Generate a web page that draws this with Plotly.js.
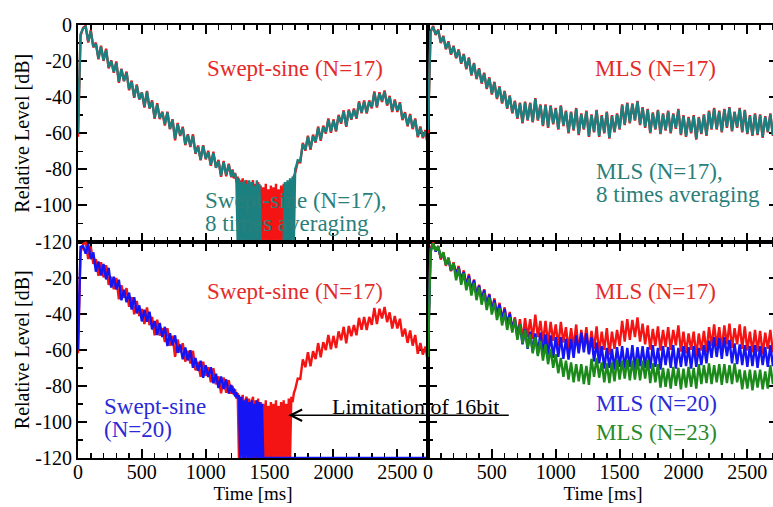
<!DOCTYPE html>
<html>
<head>
<meta charset="utf-8">
<script src="https://cdn.plot.ly/plotly-3.0.1.min.js"></script>
<style>
html,body{margin:0;padding:0;overflow:hidden;background:#fff;width:773px;height:507px;}
#chart{width:780px;height:507px;}
</style>
</head>
<body>
<div id="chart"></div>
<script>
// ---------- tick labels ----------
const xTickVals = [0, 500, 1000, 1500, 2000, 2500];
const xTickText = ['0', '500', '1000', '1500', '2000', '2500'];
const yTickVals = [-120, -100, -80, -60, -40, -20, 0];
const yTickTextTop = ['-120', '-100', '-80', '-60', '-40', '-20', '0'];
const yTickTextBottom = ['-120', '-100', '-80', '-60', '-40', '-20', ''];

// ---------- time samples [ms] ----------
const timeSweep = [
0,20,40,60,80,100,120,140,160,180,200,220,240,260,280,300,320,340,360,380,
400,420,440,460,480,500,520,540,560,580,600,620,640,660,680,700,720,740,760,780,
800,820,840,860,880,900,920,940,960,980,1000,1020,1040,1060,1080,1100,1120,1140,1160,1180,1200,
1210,1220,1230,1240,1250,1260,1270,1280,1290,1300,1310,1320,1330,1340,1350,1360,1370,1380,1390,1400,
1410,1420,1430,1440,1450,1460,1470,1480,1490,1500,1510,1520,1530,1540,1550,1560,1570,1580,1590,1600,
1610,1620,1630,1640,1650,1660,1670,1680,1690,1700,1710,1720,
1740,1760,1780,1800,1820,1840,1860,1880,1900,1920,1940,1960,1980,2000,2020,2040,2060,2080,2100,2120,
2140,2160,2180,2200,2220,2240,2260,2280,2300,2320,2340,2360,2380,2400,2420,2440,2460,2480,2500,2520,
2540,2560,2580,2600,2620,2640,2660,2680,2700,2720,2740];

const timeMls = [
0,20,40,60,80,100,120,140,160,180,200,220,240,260,280,300,320,340,360,380,
400,420,440,460,480,500,520,540,560,580,600,620,640,660,680,700,720,740,760,780,
800,820,840,860,880,900,920,940,960,980,1000,1020,1040,1060,1080,1100,1120,1140,1160,1180,
1200,1220,1240,1260,1280,1300,1320,1340,1360,1380,1400,1420,1440,1460,1480,1500,1520,1540,1560,1580,
1600,1620,1640,1660,1680,1700,1720,1740,1760,1780,1800,1820,1840,1860,1880,1900,1920,1940,1960,1980,
2000,2020,2040,2060,2080,2100,2120,2140,2160,2180,2200,2220,2240,2260,2280,2300,2320,2340,2360,2380,
2400,2420,2440,2460,2480,2500,2520,2540,2560,2580,2600,2620,2640,2660,2680,2700,2720,2740];

// ---------- Swept-sine (N=17) [dB] ----------
const sweep17 = [
-62,-6,-1.5,-0.5,-9.7,-2.8,-12.4,-9.8,-19,-11.5,
-19.9,-13.1,-24,-19.6,-26.5,-20.2,-32.1,-24.2,-31.2,-25.8,
-36.2,-30.8,-40.3,-32.9,-41.3,-37.4,-45.7,-36.6,-46.3,-41.8,
-52,-43.4,-52.1,-48,-55.7,-48.1,-57.8,-52.2,-63.9,-54.3,
-61.5,-56.4,-66.6,-60.5,-67.7,-60.6,-71.4,-66.8,-75,-66.6,
-74.5,-69.7,-78.1,-70.2,-79.2,-74.8,-84.2,-75.4,-83.8,-76.9,
-84.4,
-80,-85,-82,-87,-84,-120,-86,-89,-85,-120,
-88,-86,-120,-87,-120,-89,-86,-120,-88,-120,
-87,-120,-89,-120,-90,-120,-88,-120,-91,-120,
-89,-120,-90,-120,-88,-120,-91,-120,-89,-120,
-88,-120,-90,-120,-87,-120,-86,-89,-84,-82,
-78,-76,
-76.2,-65.3,-69.7,-61.3,-69.2,-60.8,-65.2,-56.3,-64.2,-55.8,
-60.2,-51.8,-59.7,-52.3,-59,-49.8,-54.7,-47.3,-56.5,-46.8,
-52.5,-46.3,-52,-42.3,-48.9,-41.8,-49,-41.8,-46.2,-36.8,
-45.7,-37.3,-42.7,-36.3,-44.7,-39.3,-48.2,-41.3,-48.2,-42.8,
-52.7,-48.3,-56.2,-49.3,-57.7,-51.8,-62.2,-56.3,-62.7,-58.3,
-67.2];

// ---------- Swept-sine (N=17), 8 times averaging [dB] (null = below -120 dB) ----------
const sweep17avg = [
-60,-5,-2,-1,-9,-3.5,-12,-10.5,-18.5,-12,
-19.5,-14,-23.5,-20,-26,-21,-31.5,-24.5,-31,-26.5,
-35.5,-31.5,-40,-33.5,-41,-37.5,-45,-37,-46,-42.5,
-51.5,-44,-51.5,-48.5,-55,-48.5,-57.5,-52.5,-63,-55,
-61,-57,-66,-61,-67,-61.5,-71,-67.5,-74.5,-67,
-74,-70.5,-77.5,-71,-79,-75.5,-83.5,-76,-83,-77.5,
-84,
-80.5,-84,-82.5,-86,-120,-85,-120,-87,-120,-86,
-120,-88,-120,-86,-120,-87,-120,-89,-120,-86,
-120,-88,-120,null,null,null,null,null,null,null,
null,null,null,null,null,null,null,null,null,null,
-120,-87,-120,-86,-120,-85,-120,-84,-120,-80,
-78,-75,
-75.5,-66,-69,-62,-68.5,-61.5,-64.5,-57,-63.5,-56.5,
-59.5,-52.5,-59,-53,-58.5,-50.5,-54,-48,-56,-47.5,
-52,-47,-51.5,-43,-48.5,-42.5,-48.5,-42.5,-45.5,-37.5,
-45,-38,-42,-37,-44,-40,-47.5,-42,-47.5,-43.5,
-52,-49,-55.5,-50,-57,-52.5,-61.5,-57,-62,-59,
-66.5];

// ---------- Swept-sine (N=20) [dB] ----------
const sweep20 = [
-60,-3,-2.5,-6.7,-1.3,-9.7,-6,-16.7,-11.1,-18.9,
-12.5,-21,-14.6,-25.5,-19.6,-26.6,-21.2,-32.6,-26.8,-33.7,
-28.3,-37.7,-30.9,-39.8,-35.4,-44.3,-37.8,-44.5,-38.9,-48.7,
-44.1,-51.8,-45.2,-52.9,-47.3,-58,-50.9,-57.6,-52,-61.7,
-57.1,-65.3,-58.7,-65.9,-60.3,-70,-64.5,-71.7,-66.1,-75.5,
-68.6,-75.1,-69.7,-78.6,-73.3,-81.2,-74.8,-81.8,-76.4,-84.3,
-79.5,
-84,-81.5,-86,-83.5,-87,-85,-120,-86,-120,-88,
-120,-87,-120,-89,-120,-88,-120,-90,-120,-88,
-120,-89,-120,-90,-120,-120,-120,-120,-120,-120,
-120,-120,-120,-120,-120,-120,-120,-120,-120,-120,
-120,-120,-120,-120,-120,-120,-120,-120,-120,-120,
-120,-120,
-120,-120,-120,-120,-120,-120,-120,-120,-120,-120,
-120,-120,-120,-120,-120,-120,-120,-120,-120,-120,
-120,-120,-120,-120,-120,-120,-120,-120,-120,-120,
-120,-120,-120,-120,-120,-120,-120,-120,-120,-120,
-120,-120,-120,-120,-120,-120,-120,-120,-120,-120,
-120];

// ---------- MLS (N=17) [dB] ----------
const mls17 = [
-60,-4,-0.5,-5.5,-2.5,-10,-6,-13.5,-9,-16.5,
-11.5,-18.5,-13.5,-21.5,-16,-24.5,-18,-28,-21,-30,
-24,-32.5,-26.5,-35.5,-29,-38.5,-31.5,-41,-34,-43.5,
-36.5,-46.5,-39,-49,-42,-52,-43,-54.5,-42.5,-53,
-43,-54,-40.5,-53,-44,-56,-44,-57,-44.5,-55,
-46,-58,-44.5,-56,-47.5,-60,-48,-58.5,-46,-61,
-49,-58,-47.5,-62,-49.5,-59.5,-47,-62,-50,-60,
-48,-63,-50,-59.5,-49,-58,-44,-55.5,-43,-54.5,
-43.5,-53,-42,-55.5,-45.5,-57,-46.5,-60,-48.5,-58,
-47,-60.5,-49,-58.5,-47.5,-60,-49,-57.5,-46.5,-61,
-50,-62,-51,-60,-50,-63.5,-51,-60.5,-49.5,-61.5,
-47.5,-58,-46,-58,-47.5,-59.5,-46.5,-57,-45.5,-59,
-48,-57,-46,-59.5,-47,-60.5,-50,-61.5,-49,-61,
-49.5,-62.5,-50.5,-59.5,-49,-61.5,-51,-60];

// ---------- MLS (N=17), 8 times averaging [dB] ----------
const mls17avg = [
-58,-3.5,-1,-5,-3,-9.5,-6.5,-13,-9.5,-16,
-12,-18,-14,-21,-16.5,-24,-18.5,-27.5,-21.5,-29.5,
-24.5,-32,-27,-35,-29.5,-38,-32,-40.5,-34.5,-43,
-37,-46,-39.5,-48.5,-42.5,-51.5,-43.5,-54,-43,-52.5,
-43.5,-53.5,-41,-52.5,-44.5,-55.5,-44.5,-56.5,-45,-54.5,
-46.5,-57.5,-45,-55.5,-48,-59.5,-48.5,-58,-46.5,-60.5,
-49.5,-57.5,-48,-61.5,-50,-59,-47.5,-61.5,-50.5,-59.5,
-48.5,-62.5,-50.5,-59,-49.5,-57.5,-44.5,-55,-43.5,-54,
-44,-52.5,-42.5,-55,-46,-56.5,-47,-59.5,-49,-57.5,
-47.5,-60,-49.5,-58,-48,-59.5,-49.5,-57,-47,-60.5,
-50.5,-61.5,-51.5,-59.5,-50.5,-63,-51.5,-60,-50,-61,
-48,-57.5,-46.5,-57.5,-48,-59,-47,-56.5,-46,-58.5,
-48.5,-56.5,-46.5,-59,-47.5,-60,-50.5,-61,-49.5,-60.5,
-50,-62,-51,-59,-49.5,-61,-51.5,-59.5];

// ---------- MLS (N=20) [dB] ----------
const mls20 = [
-62,-5,-1.5,-5.5,-3,-9,-7,-12.5,-10,-16,
-12.5,-18,-14.5,-21,-17,-24.5,-19,-27.5,-21.5,-30,
-24.5,-32.5,-27,-35.5,-29.5,-38,-32.5,-40.5,-35,-43,
-37.5,-46,-40,-48.5,-43,-53.5,-46,-57,-48.5,-59.5,
-50,-61,-51,-62.5,-50.5,-62,-51.5,-63,-52,-64.5,
-53,-64,-53,-65,-54,-65.5,-54,-64.5,-52,-62,
-50.5,-61.5,-51,-62.5,-53,-66.5,-56,-67.5,-58,-70.5,
-59,-70,-59.5,-71,-58.5,-69.5,-58,-70.5,-59,-69.5,
-57.5,-71,-58.5,-69,-58,-70,-58.5,-70.5,-57.5,-69.5,
-59,-71,-58,-68.5,-58.5,-70,-57.5,-70.5,-59,-69.5,
-58,-69,-58.5,-70.5,-58,-69.5,-59,-68.5,-57.5,-67.5,
-55,-64.5,-53,-64,-53.5,-65,-53,-63.5,-54.5,-67.5,
-56.5,-68,-57,-68.5,-57.5,-69.5,-58,-69,-57.5,-70,
-58,-68.5,-58.5,-69.5,-57.5,-69,-58.5,-67.5];

// ---------- MLS (N=23) [dB] ----------
const mls23 = [
-64,-6,-1,-5,-2.5,-9,-6,-13,-9,-16,
-12,-21.5,-15,-24,-17.5,-27,-20.5,-30,-23,-32.5,
-25.5,-35,-28.5,-38,-31,-40.5,-34,-43.5,-37,-46.5,
-39.5,-49,-42,-50.5,-43,-54.5,-46,-56.5,-49,-59,
-51.5,-62,-53,-63.5,-55,-66,-57,-68,-59.5,-70,
-62.5,-73,-64.5,-75,-66,-76.5,-67,-78,-68,-77.5,
-68,-79,-69,-79.5,-65,-75,-64.5,-75.5,-67,-78,
-67.5,-78.5,-67,-77.5,-65.5,-76.5,-66,-76,-65.5,-77,
-66,-76.5,-65,-77,-66,-76,-65.5,-78.5,-67.5,-78,
-68,-81,-70,-80.5,-70.5,-81.5,-69.5,-80,-70,-82,
-70.5,-81,-69.5,-80.5,-70,-81.5,-68,-79,-68.5,-78.5,
-67.5,-79,-68.5,-78,-68,-79.5,-68,-78.5,-68.5,-79,
-67.5,-78,-71,-82,-71.5,-81.5,-71,-82.5,-71.5,-81,
-71,-82,-72,-81.5,-68.5,-79,-69,-79.5];

// ---------- colours ----------
const cRed = '#f41414', cTeal = '#1d8080', cBlue = '#1414f4', cGreen = '#1b8a1b';
const tRed = '#e42a2a', tTeal = '#2a7f7a', tBlue = '#2a2ad8', tGreen = '#2a8a2a';
const FONT = 'Liberation Serif';

function line(x, y, color, xa, ya) {
  return {x: x, y: y, type: 'scatter', mode: 'lines', xaxis: xa, yaxis: ya,
          line: {color: color, width: 2.4}, connectgaps: false, hoverinfo: 'skip'};
}

const traces = [
  line(timeSweep, sweep17, cRed, 'x', 'y'),
  line(timeSweep, sweep17avg, cTeal, 'x', 'y'),
  line(timeMls, mls17, cRed, 'x2', 'y2'),
  line(timeMls, mls17avg, cTeal, 'x2', 'y2'),
  line(timeSweep, sweep17, cRed, 'x3', 'y3'),
  line(timeSweep, sweep20, cBlue, 'x3', 'y3'),
  line(timeMls, mls17, cRed, 'x4', 'y4'),
  line(timeMls, mls20, cBlue, 'x4', 'y4'),
  line(timeMls, mls23, cGreen, 'x4', 'y4')
];

function mkX(domain, anchor, labels, title) {
  return {
    domain: domain, anchor: anchor, range: [0, 2740], fixedrange: true,
    showline: true, linecolor: 'black', linewidth: 2, mirror: 'ticks',
    ticks: 'inside', ticklen: 9, tickwidth: 2, tickcolor: 'black',
    tickmode: 'array', tickvals: xTickVals, ticktext: xTickText, showticklabels: labels,
    ticklabelstandoff: -5,
    tickfont: {family: FONT, size: 20, color: 'black'},
    minor: {tickmode: 'linear', tick0: 0, dtick: 100, ticks: 'inside', ticklen: 5, tickwidth: 1.5, tickcolor: 'black', showgrid: false},
    showgrid: false, zeroline: false, layer: 'below traces',
    title: {text: title, font: {family: FONT, size: 19, color: 'black'}, standoff: 0}
  };
}
function mkY(domain, anchor, labels, text, title) {
  return {
    domain: domain, anchor: anchor, range: [-120, 0], fixedrange: true,
    showline: true, linecolor: 'black', linewidth: 2, mirror: 'ticks',
    ticks: 'inside', ticklen: 9, tickwidth: 2, tickcolor: 'black',
    tickmode: 'array', tickvals: yTickVals, ticktext: text, showticklabels: labels,
    tickfont: {family: FONT, size: 20, color: 'black'},
    minor: {tickmode: 'linear', tick0: 0, dtick: 10, ticks: 'inside', ticklen: 5, tickwidth: 1.5, tickcolor: 'black', showgrid: false},
    showgrid: false, zeroline: false, layer: 'below traces',
    title: {text: title, font: {family: FONT, size: 20, color: 'black'}, standoff: 0}
  };
}

function ann(xa, ya, x, y, text, color, anchor, size) {
  return {xref: xa, yref: ya, x: x, y: y, text: text, showarrow: false,
          xanchor: anchor, yanchor: 'middle',
          font: {family: FONT, size: size || 23, color: color}};
}

const annotations = [
  ann('x', 'y', 1700, -24, 'Swept-sine (N=17)', tRed, 'center'),
  ann('x', 'y', 980, -97, 'Swept-sine (N=17),', tTeal, 'left'),
  ann('x', 'y', 980, -110, '8 times averaging', tTeal, 'left'),
  ann('x2', 'y2', 1778, -24, 'MLS (N=17)', tRed, 'center'),
  ann('x2', 'y2', 1297, -81, 'MLS (N=17),', tTeal, 'left'),
  ann('x2', 'y2', 1297, -94, '8 times averaging', tTeal, 'left'),
  ann('x3', 'y3', 1700, -27.5, 'Swept-sine (N=17)', tRed, 'center'),
  ann('x3', 'y3', 188, -91.5, 'Swept-sine', tBlue, 'left'),
  ann('x3', 'y3', 188, -104, '(N=20)', tBlue, 'left'),
  ann('x3', 'y3', 1975, -91.4, 'Limitation of 16bit', 'black', 'left', 22),
  {xref: 'x3', yref: 'y3', x: 1646, y: -96.3, text: '', showarrow: true,
   ax: 222, ay: 0, arrowhead: 5, arrowsize: 1.6, arrowwidth: 1.4, arrowcolor: 'black', standoff: 0},
  ann('x4', 'y4', 1778, -27.5, 'MLS (N=17)', tRed, 'center'),
  ann('x4', 'y4', 1297, -89.7, 'MLS (N=20)', tBlue, 'left'),
  ann('x4', 'y4', 1297, -105.7, 'MLS (N=23)', tGreen, 'left')
];

const layout = {
  width: 780, height: 507,
  margin: {l: 78, r: 2, t: 25, b: 49},
  paper_bgcolor: 'white', plot_bgcolor: 'rgba(0,0,0,0)',
  showlegend: false,
  font: {family: FONT, size: 20, color: 'black'},
  xaxis: mkX([0, 0.5], 'y', false, ''),
  yaxis: mkY([0.5, 1], 'x', true, yTickTextTop, 'Relative Level [dB]'),
  xaxis2: mkX([0.5, 1], 'y2', false, ''),
  yaxis2: mkY([0.5, 1], 'x2', false, yTickTextTop, ''),
  xaxis3: mkX([0, 0.5], 'y3', true, 'Time [ms]'),
  yaxis3: mkY([0, 0.5], 'x3', true, yTickTextBottom, 'Relative Level [dB]'),
  xaxis4: mkX([0.5, 1], 'y4', true, 'Time [ms]'),
  yaxis4: mkY([0, 0.5], 'x4', false, yTickTextBottom, ''),
  annotations: annotations
};

Plotly.newPlot('chart', traces, layout, {displayModeBar: false, staticPlot: true});
</script>
</body>
</html>
